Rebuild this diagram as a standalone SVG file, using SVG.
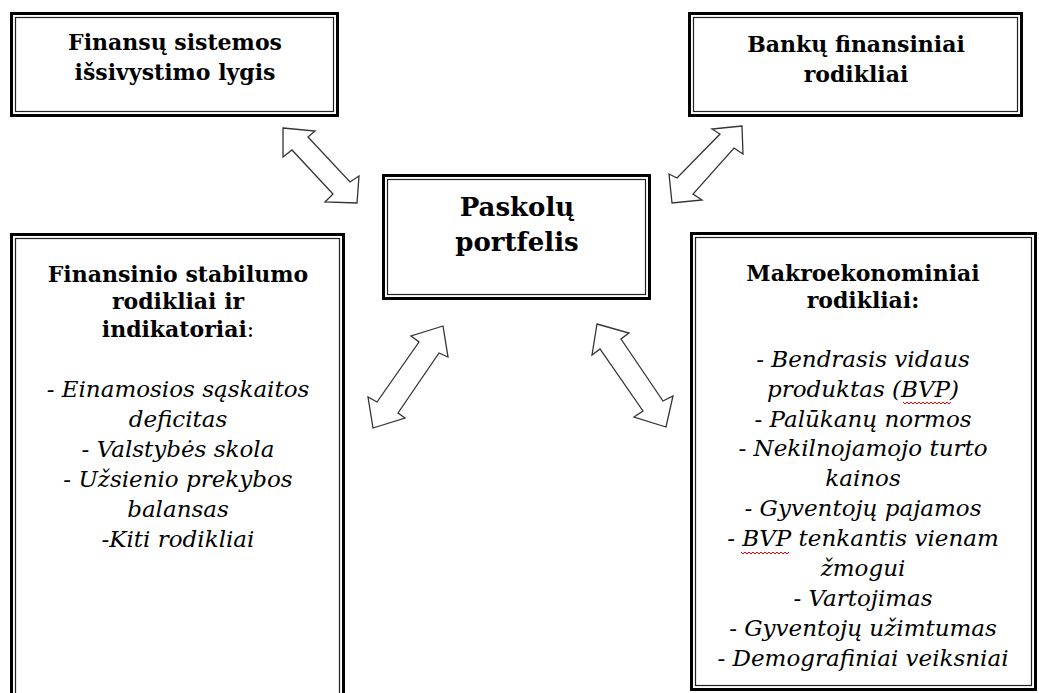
<svg xmlns="http://www.w3.org/2000/svg" width="1039" height="693" viewBox="0 0 1039 693">
<style>
.outer{fill:#fff;stroke:#000;stroke-width:3}
.inner{fill:none;stroke:#222;stroke-width:1.2}
.t{font-family:"DejaVu Serif","Liberation Serif",serif;font-weight:bold;font-size:22px;fill:#000;text-anchor:middle}
.tc{font-family:"DejaVu Serif","Liberation Serif",serif;font-weight:bold;font-size:26px;fill:#000;text-anchor:middle}
.b{font-family:"DejaVu Serif","Liberation Serif",serif;font-style:italic;font-size:23px;fill:#000;text-anchor:middle}
.arr{fill:#fff;stroke:#333;stroke-width:1.3;stroke-linejoin:miter}
.sq{fill:none;stroke:#e00;stroke-width:1}
</style>
<rect width="1039" height="693" fill="#fff"/>
<g id="connectors">
<polygon class="arr" points="283,128 315,131 308,137 350,182 359,176 357,203 325,202 333,194 292,150 283,157"/>
<polygon class="arr" points="742,126 712,129 720,134 677,178 669,174 672,203 702,200 693,194 734,148 743,154"/>
<polygon class="arr" points="443,326 411,336 419,342 377,402 368,397 373,428 405,418 398,413 439,353 448,357"/>
<polygon class="arr" points="597,324 629,333 621,339 663,401 673,396 666,427 634,417 643,411 600,349 592,355"/>
</g>
<g id="node-finansu-sistemos">
<rect class="outer" x="11.5" y="13.5" width="326" height="102"/>
<rect class="inner" x="15.5" y="17.5" width="318" height="94"/>
<text class="t" x="175" y="50">Finansų sistemos</text>
<text class="t" x="175" y="80">išsivystimo lygis</text>
</g>
<g id="node-banku">
<rect class="outer" x="689.5" y="13.5" width="332" height="102"/>
<rect class="inner" x="693.5" y="17.5" width="324" height="94"/>
<text class="t" x="856" y="52">Bankų finansiniai</text>
<text class="t" x="856" y="82">rodikliai</text>
</g>
<g id="node-paskolu">
<rect class="outer" x="383.5" y="175.5" width="266" height="123"/>
<rect class="inner" x="387.5" y="179.5" width="258" height="115"/>
<text class="tc" x="517" y="216">Paskolų</text>
<text class="tc" x="517" y="251">portfelis</text>
</g>
<g id="node-finansinio-stabilumo">
<rect class="outer" x="11.5" y="234.5" width="332" height="460"/>
<rect class="inner" x="15.5" y="238.5" width="324" height="460"/>
<text class="t" x="178" y="282">Finansinio stabilumo</text>
<text class="t" x="178" y="309">rodikliai ir</text>
<text class="t" x="178" y="337">indikatoriai<tspan font-weight="normal">:</tspan></text>
<text class="b" x="178" y="397">- Einamosios sąskaitos</text>
<text class="b" x="178" y="427">deficitas</text>
<text class="b" x="178" y="457">- Valstybės skola</text>
<text class="b" x="178" y="487">- Užsienio prekybos</text>
<text class="b" x="178" y="517">balansas</text>
<text class="b" x="178" y="547">-Kiti rodikliai</text>
</g>
<g id="node-makroekonominiai">
<rect class="outer" x="691.5" y="233.5" width="344" height="456"/>
<rect class="inner" x="695.5" y="237.5" width="336" height="448"/>
<text class="t" x="863" y="281">Makroekonominiai</text>
<text class="t" x="863" y="308">rodikliai:</text>
<text class="b" x="863" y="367">- Bendrasis vidaus</text>
<text class="b" x="863" y="397">produktas (BVP)</text>
<text class="b" x="863" y="427">- Palūkanų normos</text>
<text class="b" x="863" y="456">- Nekilnojamojo turto</text>
<text class="b" x="863" y="486">kainos</text>
<text class="b" x="863" y="516">- Gyventojų pajamos</text>
<text class="b" x="863" y="546">- BVP tenkantis vienam</text>
<text class="b" x="863" y="576">žmogui</text>
<text class="b" x="863" y="606">- Vartojimas</text>
<text class="b" x="863" y="636">- Gyventojų užimtumas</text>
<text class="b" x="863" y="666">- Demografiniai veiksniai</text>
<path class="sq" d="M903,402 l2,2 l2,-2 l2,2 l2,-2 l2,2 l2,-2 l2,2 l2,-2 l2,2 l2,-2 l2,2 l2,-2 l2,2 l2,-2 l2,2 l2,-2 l2,2 l2,-2 l2,2 l2,-2 l2,2 l2,-2 l2,2 l2,-2"/>
<path class="sq" d="M741,552 l2,2 l2,-2 l2,2 l2,-2 l2,2 l2,-2 l2,2 l2,-2 l2,2 l2,-2 l2,2 l2,-2 l2,2 l2,-2 l2,2 l2,-2 l2,2 l2,-2 l2,2 l2,-2 l2,2 l2,-2 l2,2 l2,-2"/>
</g>
</svg>
